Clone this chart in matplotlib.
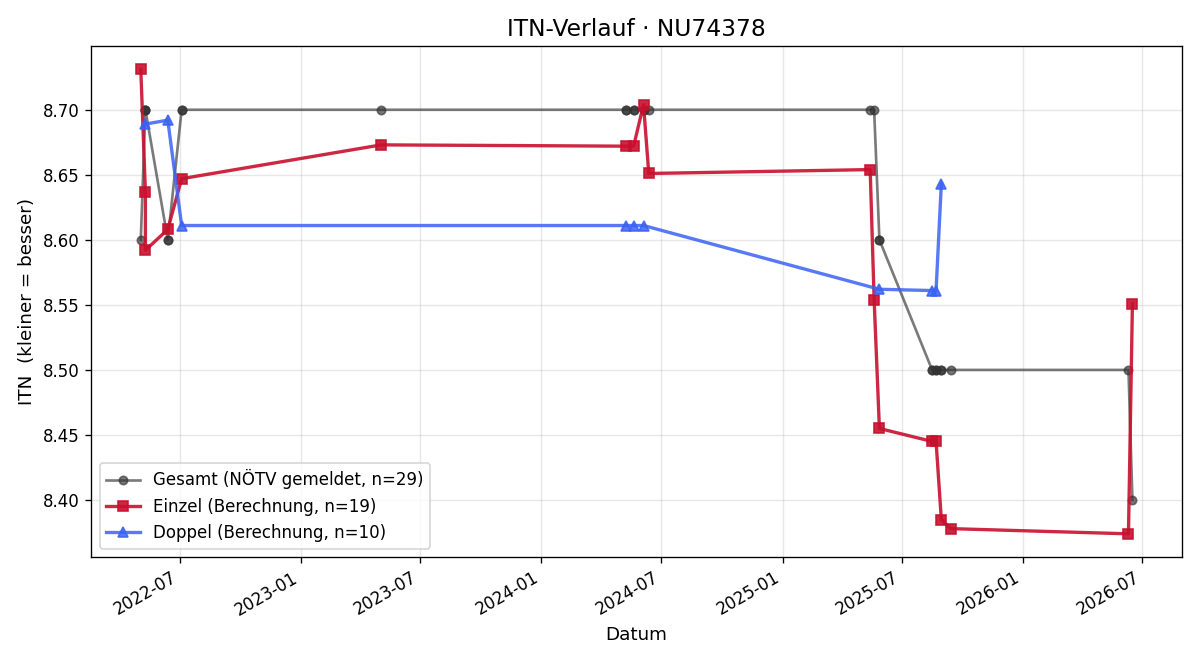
import matplotlib
matplotlib.use("Agg")
import matplotlib.pyplot as plt
import matplotlib.dates as mdates
import pandas as pd

# Einzel (Berechnung)
einzel_dates = ["2022-05-03", "2022-05-10", "2022-05-10", "2022-06-13", "2022-07-04",
                "2023-05-03", "2024-05-08", "2024-05-20", "2024-06-04", "2024-06-12",
                "2025-05-14", "2025-05-20", "2025-05-28", "2025-08-16", "2025-08-22",
                "2025-08-30", "2025-09-13", "2026-06-10", "2026-06-16"]
einzel_itn = [8.731, 8.637, 8.592, 8.608, 8.647,
              8.673, 8.672, 8.672, 8.704, 8.651,
              8.654, 8.554, 8.455, 8.445, 8.445,
              8.385, 8.378, 8.374, 8.551]

# Doppel (Berechnung)
doppel_dates = ["2022-05-10", "2022-06-13", "2022-07-04", "2024-05-08", "2024-05-20",
                "2024-06-04", "2025-05-28", "2025-08-16", "2025-08-22", "2025-08-30"]
doppel_itn = [8.689, 8.692, 8.611, 8.611, 8.611,
              8.611, 8.562, 8.561, 8.561, 8.643]

# Gesamt (NÖTV gemeldet)
gesamt_dates = ["2022-05-03", "2022-05-10", "2022-05-10", "2022-05-10", "2022-06-13",
                "2022-06-13", "2022-07-04", "2022-07-04", "2023-05-03", "2024-05-08",
                "2024-05-08", "2024-05-20", "2024-05-20", "2024-06-04", "2024-06-04",
                "2024-06-12", "2025-05-14", "2025-05-20", "2025-05-28", "2025-05-28",
                "2025-08-16", "2025-08-16", "2025-08-22", "2025-08-22", "2025-08-30",
                "2025-08-30", "2025-09-13", "2026-06-10", "2026-06-16"]
gesamt_itn = [8.60, 8.70, 8.70, 8.70, 8.60,
              8.60, 8.70, 8.70, 8.70, 8.70,
              8.70, 8.70, 8.70, 8.70, 8.70,
              8.70, 8.70, 8.70, 8.60, 8.60,
              8.50, 8.50, 8.50, 8.50, 8.50,
              8.50, 8.50, 8.50, 8.40]

fig, ax = plt.subplots(figsize=(10, 5.5), dpi=120)

ax.plot(pd.to_datetime(gesamt_dates), gesamt_itn, marker="o", markersize=5, linewidth=1.6,
        color="#333333", alpha=0.65, label=f"Gesamt (NÖTV gemeldet, n={len(gesamt_itn)})")
ax.plot(pd.to_datetime(einzel_dates), einzel_itn, marker="s", markersize=6, linewidth=2,
        color="#c8102e", alpha=0.9, label=f"Einzel (Berechnung, n={len(einzel_itn)})")
ax.plot(pd.to_datetime(doppel_dates), doppel_itn, marker="^", markersize=6, linewidth=2,
        color="#3a62f2", alpha=0.85, label=f"Doppel (Berechnung, n={len(doppel_itn)})")

ax.xaxis.set_major_locator(mdates.MonthLocator(bymonth=[1, 7]))
ax.xaxis.set_major_formatter(mdates.DateFormatter("%Y-%m"))
ax.yaxis.set_major_formatter(plt.FormatStrFormatter("%.2f"))

ax.set_title("ITN-Verlauf · NU74378", fontsize=14)
ax.set_xlabel("Datum", fontsize=11)
ax.set_ylabel("ITN  (kleiner = besser)", fontsize=11)
ax.grid(True, alpha=0.3)
ax.legend(loc="lower left", fontsize=10)
fig.autofmt_xdate()

plt.subplots_adjust(left=0.076, right=0.985, top=0.93, bottom=0.156)
plt.savefig("out.png")
